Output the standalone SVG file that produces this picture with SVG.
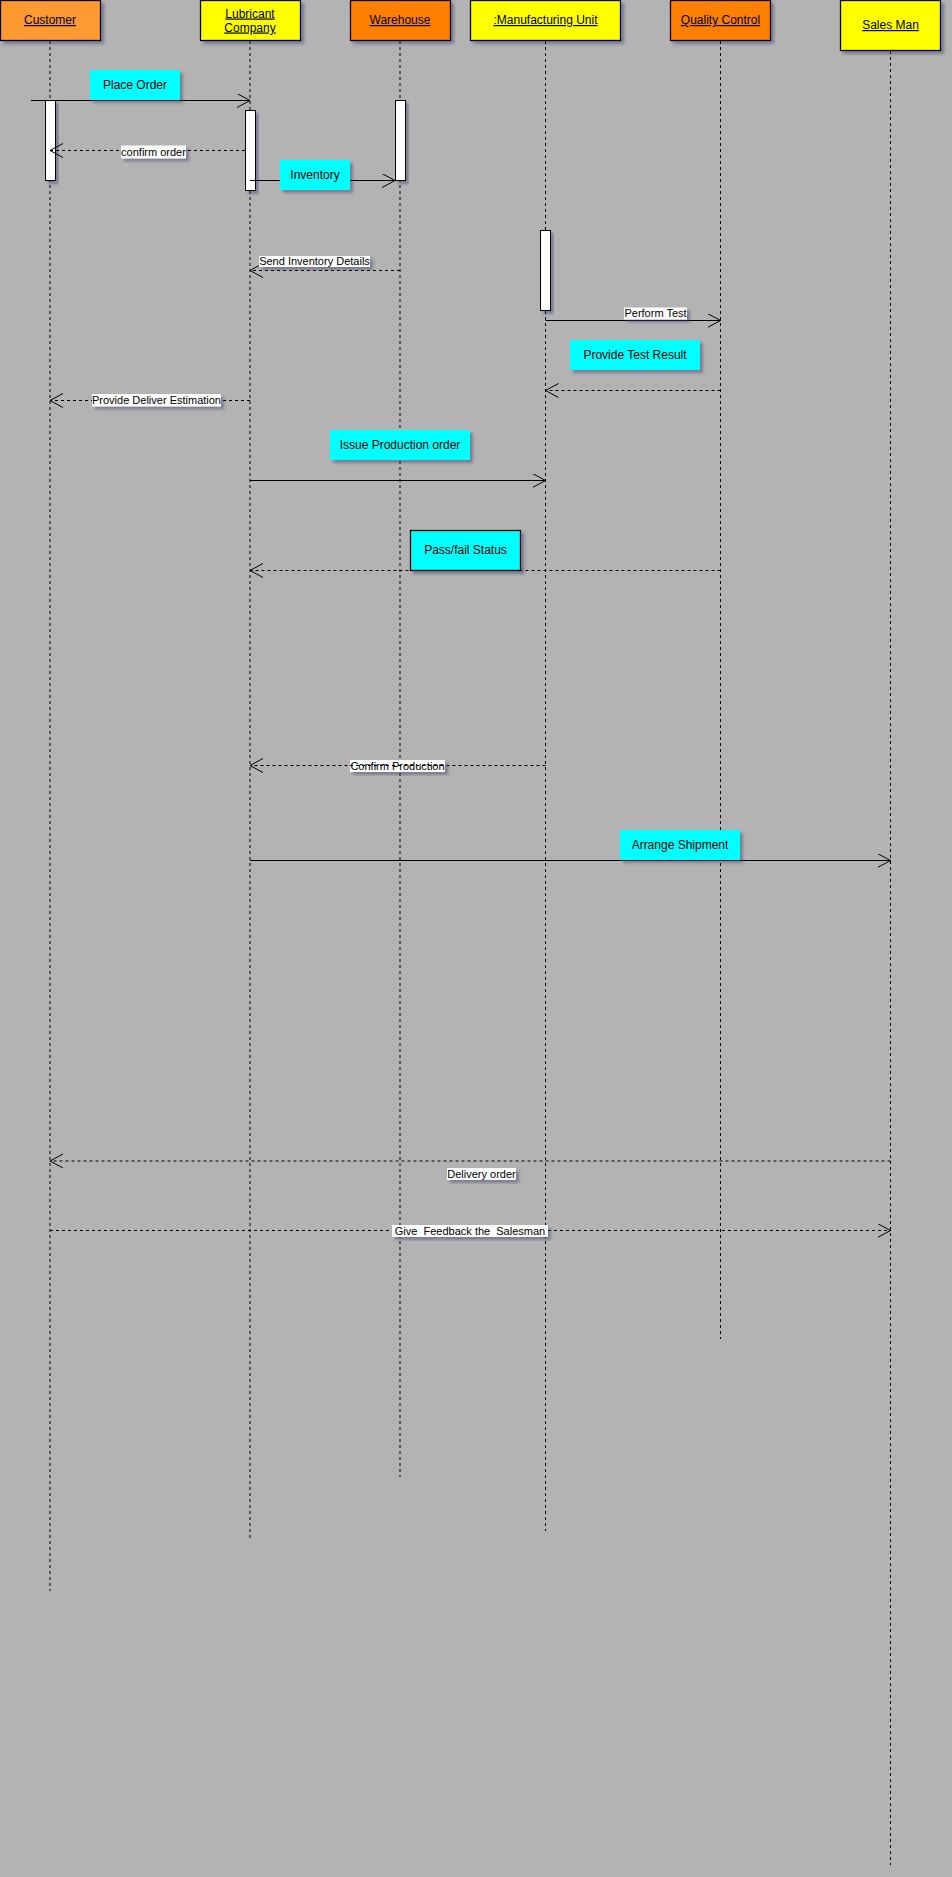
<svg xmlns="http://www.w3.org/2000/svg" width="952" height="1877" viewBox="0 0 952 1877">
<defs>
  <filter id="sh" x="-20%" y="-20%" width="150%" height="150%">
    <feDropShadow dx="3" dy="3" stdDeviation="1.5" flood-color="#3c3c6e" flood-opacity="0.45"/>
  </filter>
  <marker id="open" markerWidth="16" markerHeight="16" refX="13" refY="7" orient="auto" markerUnits="userSpaceOnUse">
    <path d="M0,0 L13,7 L0,14" fill="none" stroke="#000" stroke-width="1"/>
  </marker>
</defs>
<style>
  .bg{fill:#b3b3b3}
  .obj{stroke:#000;stroke-width:1.3;filter:url(#sh)}
  .objt{font-family:"Liberation Sans",Arial,sans-serif;font-size:12px;fill:#000;text-anchor:middle;text-decoration:underline}
  .life{stroke:#000;stroke-width:1;stroke-dasharray:3,3;fill:none}
  .act{fill:#fff;stroke:#000;stroke-width:1;filter:url(#sh)}
  .msg{stroke:#000;stroke-width:1;fill:none;marker-end:url(#open)}
  .ret{stroke:#000;stroke-width:1;stroke-dasharray:3,3;fill:none;marker-end:url(#open)}
  .note{fill:#00ffff;filter:url(#sh)}
  .notet{font-family:"Liberation Sans",Arial,sans-serif;font-size:12px;fill:#000;text-anchor:middle}
  .lbl{fill:#fff;filter:url(#sh)}
  .lblt{font-family:"Liberation Sans",Arial,sans-serif;font-size:11px;fill:#000;text-anchor:middle}
</style>
<rect class="bg" x="0" y="0" width="952" height="1877"/>

<g id="lifelines">
  <line class="life" x1="50" y1="41" x2="50" y2="1591"/>
  <line class="life" x1="250" y1="41" x2="250" y2="1538"/>
  <line class="life" x1="400" y1="41" x2="400" y2="1477"/>
  <line class="life" x1="545.5" y1="41" x2="545.5" y2="1531"/>
  <line class="life" x1="720.5" y1="41" x2="720.5" y2="1339"/>
  <line class="life" x1="890.5" y1="51" x2="890.5" y2="1865"/>
</g>

<g id="customer">
  <rect class="obj" x="0.5" y="0.5" width="100" height="40" fill="#ff9933"/>
  <text class="objt" x="50" y="24">Customer</text>
</g>
<g id="lubricant">
  <rect class="obj" x="200.5" y="0.5" width="100" height="40" fill="#ffff00"/>
  <text class="objt" x="250" y="17.5">Lubricant</text>
  <text class="objt" x="250" y="31.5">Company</text>
</g>
<g id="warehouse">
  <rect class="obj" x="350.5" y="0.5" width="100" height="40" fill="#ff8000"/>
  <text class="objt" x="400" y="24">Warehouse</text>
</g>
<g id="manufacturing">
  <rect class="obj" x="470.5" y="0.5" width="150" height="40" fill="#ffff00"/>
  <text class="objt" x="545.5" y="24">:Manufacturing Unit</text>
</g>
<g id="quality">
  <rect class="obj" x="670.5" y="0.5" width="100" height="40" fill="#ff8000"/>
  <text class="objt" x="720.5" y="24">Quality Control</text>
</g>
<g id="salesman">
  <rect class="obj" x="840.5" y="0.5" width="100" height="50" fill="#ffff00"/>
  <text class="objt" x="890.5" y="29">Sales Man</text>
</g>

<g id="activations">
  <rect class="act" x="45.5" y="100.5" width="10" height="80"/>
  <rect class="act" x="245.5" y="110.5" width="10" height="80"/>
  <rect class="act" x="395.5" y="100.5" width="10" height="80"/>
  <rect class="act" x="540.5" y="230.5" width="10" height="80"/>
</g>

<g id="connectors">
  <line class="msg" x1="31" y1="100.5" x2="250" y2="100.5"/>
  <line class="ret" x1="245" y1="150.5" x2="50" y2="150.5"/>
  <line class="msg" x1="250" y1="180.5" x2="395" y2="180.5"/>
  <line class="ret" x1="400" y1="270.5" x2="250" y2="270.5"/>
  <line class="msg" x1="545.5" y1="320.5" x2="720.5" y2="320.5"/>
  <line class="ret" x1="720.5" y1="390.5" x2="545.5" y2="390.5"/>
  <line class="ret" x1="250" y1="400.5" x2="50" y2="400.5"/>
  <line class="msg" x1="250" y1="480.5" x2="545.5" y2="480.5"/>
  <line class="ret" x1="720.5" y1="570.5" x2="250" y2="570.5"/>
  <line class="ret" x1="545.5" y1="765.5" x2="250" y2="765.5"/>
  <line class="msg" x1="250" y1="860.5" x2="890.5" y2="860.5"/>
  <line class="ret" x1="890.5" y1="1161" x2="50" y2="1161"/>
  <line class="ret" x1="50" y1="1230.5" x2="890.5" y2="1230.5"/>
</g>

<g id="labels">
  <g id="lbl-place-order">
    <rect class="note" x="90" y="70" width="90" height="30"/>
    <text class="notet" x="135" y="89">Place Order</text>
  </g>
  <g id="lbl-confirm-order">
    <rect class="lbl" x="121" y="145.5" width="65" height="13"/>
    <text class="lblt" x="153.5" y="155.5">confirm order</text>
  </g>
  <g id="lbl-inventory">
    <rect class="note" x="280" y="160" width="70" height="30"/>
    <text class="notet" x="315" y="179">Inventory</text>
  </g>
  <g id="lbl-send-inventory">
    <rect class="lbl" x="259" y="256" width="111" height="11"/>
    <text class="lblt" x="314.5" y="265">Send Inventory Details</text>
  </g>
  <g id="lbl-perform-test">
    <rect class="lbl" x="624" y="307.5" width="63" height="12"/>
    <text class="lblt" x="655.5" y="317">Perform Test</text>
  </g>
  <g id="lbl-test-result">
    <rect class="note" x="570" y="340" width="130" height="30"/>
    <text class="notet" x="635" y="359">Provide Test Result</text>
  </g>
  <g id="lbl-deliver-estimation">
    <rect class="lbl" x="92" y="394" width="129" height="12.5"/>
    <text class="lblt" x="156.5" y="404">Provide Deliver Estimation</text>
  </g>
  <g id="lbl-issue-production">
    <rect class="note" x="330" y="430" width="140" height="30"/>
    <text class="notet" x="400" y="449">Issue Production order</text>
  </g>
  <g id="lbl-pass-fail">
    <rect class="note" x="410.5" y="530.5" width="110" height="40" stroke="#000" stroke-width="1.3"/>
    <text class="notet" x="465.5" y="554">Pass/fail Status</text>
  </g>
  <g id="lbl-confirm-production">
    <rect class="lbl" x="350" y="760" width="95" height="12"/>
    <text class="lblt" x="397.5" y="769.5">Confirm Production</text>
    <line x1="350" y1="765.5" x2="445" y2="765.5" stroke="#000" stroke-width="1" stroke-dasharray="3,3"/>
  </g>
  <g id="lbl-arrange-shipment">
    <rect class="note" x="620" y="830" width="120" height="30"/>
    <text class="notet" x="680" y="849">Arrange Shipment</text>
  </g>
  <g id="lbl-delivery-order">
    <rect class="lbl" x="447" y="1168" width="69" height="12"/>
    <text class="lblt" x="481.5" y="1177.5">Delivery order</text>
  </g>
  <g id="lbl-feedback">
    <rect class="lbl" x="392" y="1225" width="156" height="12"/>
    <text class="lblt" x="470" y="1234.5" xml:space="preserve">Give  Feedback the  Salesman</text>
  </g>
</g>
</svg>
